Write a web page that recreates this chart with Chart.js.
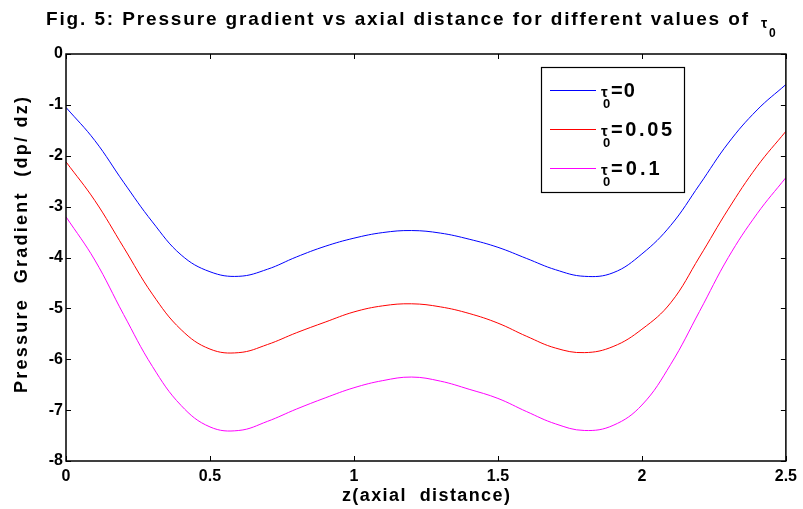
<!DOCTYPE html>
<html>
<head>
<meta charset="utf-8">
<script src="https://cdn.jsdelivr.net/npm/chart.js@4.4.1/dist/chart.umd.min.js"></script>
<style>
    html, body { margin: 0; padding: 0; background: #fff; }
    #wrap { width: 803px; height: 509px; }
</style>
</head>
<body>
<div id="wrap"><canvas id="chart"></canvas></div>
<script>
// axial distance z
const zValues = [0, 0.1, 0.2, 0.3, 0.4, 0.5, 0.6, 0.7, 0.8, 0.9, 1.0, 1.1, 1.2,
                 1.3, 1.4, 1.5, 1.6, 1.7, 1.8, 1.9, 2.0, 2.1, 2.2, 2.3, 2.4, 2.5];

// pressure gradient dp/dz for each tau_0
const gradTau0 = [-1.05, -1.70, -2.52, -3.30, -3.95, -4.28, -4.37, -4.23, -3.99, -3.78, -3.62, -3.51, -3.47,
                  -3.52, -3.64, -3.80, -4.02, -4.24, -4.37, -4.30, -3.93, -3.37, -2.57, -1.75, -1.10, -0.60];
const gradTau005 = [-2.12, -2.88, -3.80, -4.72, -5.42, -5.80, -5.87, -5.71, -5.48, -5.27, -5.07, -4.95, -4.91,
                    -4.97, -5.10, -5.29, -5.55, -5.78, -5.87, -5.75, -5.41, -4.89, -3.99, -3.05, -2.21, -1.52];
const gradTau01 = [-3.20, -4.05, -5.12, -6.14, -6.91, -7.33, -7.40, -7.22, -6.98, -6.76, -6.56, -6.42, -6.35,
                   -6.43, -6.59, -6.77, -7.03, -7.27, -7.40, -7.30, -6.90, -6.10, -5.06, -4.00, -3.14, -2.43];

const tauLabels = ['0', '0.05', '0.1'];
const xTicks = [0, 0.5, 1, 1.5, 2, 2.5];
const yTicks = [0, -1, -2, -3, -4, -5, -6, -7, -8];

const FONT = '"Liberation Sans", Arial, sans-serif';

function toPoints(ys) {
    return zValues.map((z, i) => ({ x: z, y: ys[i] }));
}

// draw text spread over a given width using letter spacing
function spacedText(ctx, text, x, y, font, width, align) {
    ctx.save();
    ctx.font = font;
    ctx.letterSpacing = '0px';
    const w0 = ctx.measureText(text).width;
    const sp = (width - w0) / Math.max(1, text.length - 1);
    ctx.letterSpacing = sp + 'px';
    ctx.textBaseline = 'alphabetic';
    ctx.textAlign = 'left';
    const startX = align === 'center' ? x - width / 2 : x;
    ctx.fillText(text, startX, y);
    ctx.restore();
}

// box, inward ticks, titles and legend
const decorations = {
    id: 'decorations',
    afterDatasetsDraw(chart) {
        const ctx = chart.ctx;
        const a = chart.chartArea;
        const xs = chart.scales.x;
        const ys = chart.scales.y;

        ctx.save();
        ctx.strokeStyle = '#000';
        ctx.lineWidth = 1;
        xTicks.forEach(v => {
            const px = Math.round(xs.getPixelForValue(v)) + 0.5;
            ctx.beginPath();
            ctx.moveTo(px, a.bottom); ctx.lineTo(px, a.bottom - 5);
            ctx.moveTo(px, a.top); ctx.lineTo(px, a.top + 5);
            ctx.stroke();
        });
        yTicks.forEach(v => {
            const py = Math.round(ys.getPixelForValue(v)) + 0.5;
            ctx.beginPath();
            ctx.moveTo(a.left, py); ctx.lineTo(a.left + 5, py);
            ctx.moveTo(a.right, py); ctx.lineTo(a.right - 5, py);
            ctx.stroke();
        });
        ctx.lineWidth = 1.5;
        ctx.strokeRect(a.left, a.top, a.right - a.left, a.bottom - a.top);
        ctx.restore();

        // legend
        const lx = 541, ly = 67, lw = 143, lh = 125;
        ctx.save();
        ctx.fillStyle = '#fff';
        ctx.fillRect(lx, ly, lw, lh);
        ctx.strokeStyle = '#000';
        ctx.lineWidth = 1.2;
        ctx.strokeRect(lx + 0.5, ly + 0.5, lw, lh);
        chart.data.datasets.forEach((ds, i) => {
            const y = 90.5 + i * 39;
            ctx.strokeStyle = ds.borderColor;
            ctx.lineWidth = 1;
            ctx.beginPath();
            ctx.moveTo(550, y); ctx.lineTo(596, y);
            ctx.stroke();
            ctx.fillStyle = '#000';
            ctx.textBaseline = 'alphabetic';
            ctx.font = 'bold 15px ' + FONT;
            ctx.fillText('τ', 601, y + 6);
            ctx.font = 'bold 13px ' + FONT;
            ctx.fillText('0', 603, y + 17);
            const label = '=' + tauLabels[i];
            spacedText(ctx, label, 611, y + 6, 'bold 20px ' + FONT,
                       label.length * 12.4 - 1, 'left');
        });
        ctx.restore();

        // chart title
        ctx.save();
        ctx.fillStyle = '#000';
        spacedText(ctx, 'Fig. 5: Pressure gradient vs axial distance for different values of',
                   46, 25, 'bold 19px ' + FONT, 702, 'left');
        ctx.textBaseline = 'alphabetic';
        ctx.font = 'bold 14px ' + FONT;
        ctx.fillText('τ', 761, 28);
        ctx.font = 'bold 12px ' + FONT;
        ctx.fillText('0', 769, 37);

        // axis titles
        spacedText(ctx, 'z(axial  distance)', (a.left + a.right) / 2, 501, 'bold 18px ' + FONT, 168, 'center');
        ctx.translate(27, 245);
        ctx.rotate(-Math.PI / 2);
        spacedText(ctx, 'Pressure  Gradient  (dp/ dz)', 0, 0, 'bold 18px ' + FONT, 296, 'center');
        ctx.restore();
    }
};

new Chart(document.getElementById('chart'), {
    type: 'line',
    data: {
        datasets: [
            { label: 'tau0=0', data: toPoints(gradTau0), borderColor: '#0000ff' },
            { label: 'tau0=0.05', data: toPoints(gradTau005), borderColor: '#ff0000' },
            { label: 'tau0=0.1', data: toPoints(gradTau01), borderColor: '#ff00ff' }
        ]
    },
    options: {
        responsive: true,
        maintainAspectRatio: false,
        animation: false,
        devicePixelRatio: 1,
        layout: { padding: { left: 0, top: 54, right: 16, bottom: 0 } },
        elements: {
            line: { borderWidth: 1, tension: 0.4, fill: false },
            point: { radius: 0, hoverRadius: 0 }
        },
        plugins: {
            legend: { display: false },
            title: { display: false },
            tooltip: { enabled: false }
        },
        scales: {
            x: {
                type: 'linear',
                min: 0,
                max: 2.5,
                afterBuildTicks: s => { s.ticks = xTicks.map(v => ({ value: v })); },
                afterFit: s => { s.height = 48; },
                grid: { display: false, drawTicks: false },
                border: { display: false },
                ticks: {
                    color: '#000',
                    padding: 6,
                    maxRotation: 0,
                    font: { family: FONT, size: 16, weight: 'bold' },
                    callback: v => String(v)
                }
            },
            y: {
                type: 'linear',
                min: -8,
                max: 0,
                afterBuildTicks: s => { s.ticks = yTicks.map(v => ({ value: v })); },
                afterFit: s => { s.width = 66; },
                grid: { display: false, drawTicks: false },
                border: { display: false },
                ticks: {
                    color: '#000',
                    padding: 3,
                    font: { family: FONT, size: 16, weight: 'bold' },
                    callback: v => String(v)
                }
            }
        }
    },
    plugins: [decorations]
});
</script>
</body>
</html>
